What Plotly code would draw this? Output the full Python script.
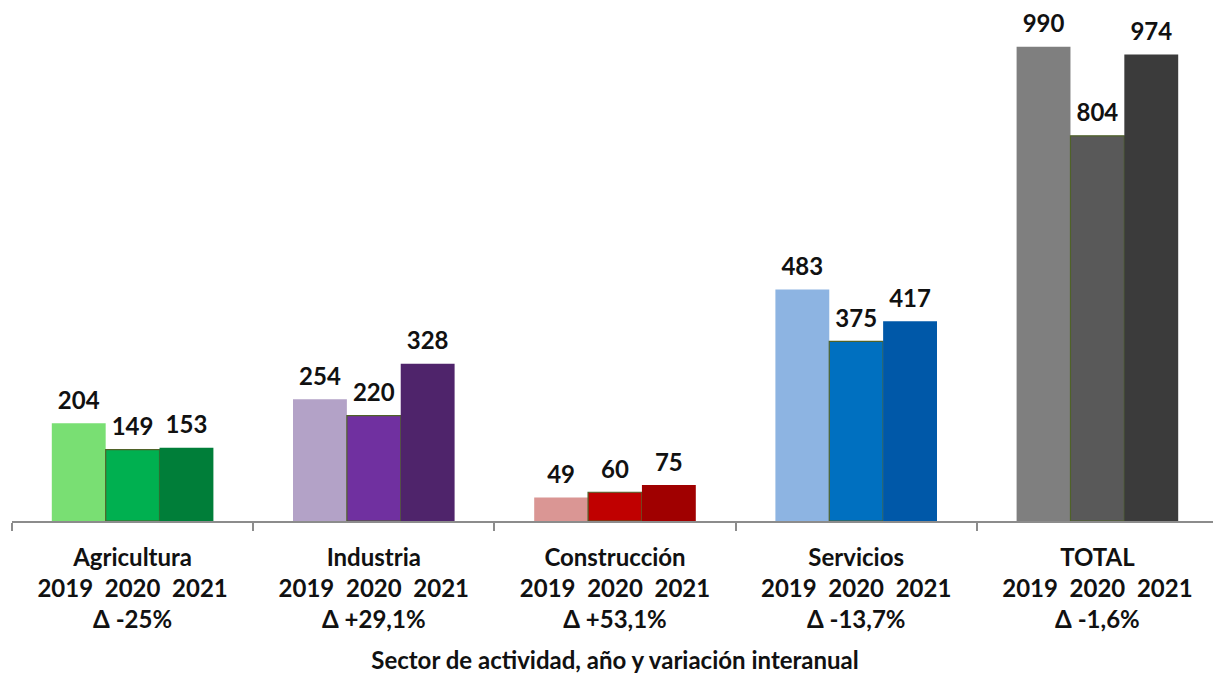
import plotly.graph_objects as go

sectors = ["Agricultura", "Industria", "Construcción", "Servicios", "TOTAL"]
variations = ["Δ -25%", "Δ +29,1%", "Δ +53,1%", "Δ -13,7%", "Δ -1,6%"]
years = ["2019", "2020", "2021"]
values_2019 = [204, 254, 49, 483, 990]
values_2020 = [149, 220, 60, 375, 804]
values_2021 = [153, 328, 75, 417, 974]

colors_2019 = ["#79DF73", "#B3A2C7", "#DA9694", "#8DB4E2", "#7F7F7F"]
colors_2020 = ["#00B050", "#7030A0", "#C00000", "#0070C0", "#595959"]
colors_2021 = ["#007E39", "#4F246B", "#A00000", "#0058A8", "#3B3B3B"]

tick_labels = [f"<b>{s}</b><br><b>{'  '.join(years)}</b><br><b>{v}</b>" for s, v in zip(sectors, variations)]

FONT = "Lato"
series = [
    ("2019", values_2019, colors_2019, 0),
    ("2020", values_2020, colors_2020, 1.2),
    ("2021", values_2021, colors_2021, 0),
]

fig = go.Figure()
for name, vals, cols, lw in series:
    fig.add_trace(go.Bar(
        x=sectors, y=vals, name=name, offsetgroup=name,
        marker=dict(color=cols, line=dict(color="#4F6228", width=lw)),
        hoverinfo="x+y",
    ))
for name, vals, cols, lw in series:
    fig.add_trace(go.Scatter(
        x=sectors, y=vals, name=name + " etiqueta", offsetgroup=name,
        mode="markers+text", text=[str(v) for v in vals],
        textposition="top center",
        marker=dict(size=12, opacity=0),
        textfont=dict(family=FONT, size=24, color="#111111", weight="bold"),
        showlegend=False, hoverinfo="skip", cliponaxis=False,
    ))

fig.update_layout(
    width=1221, height=674,
    barmode="group", scattermode="group", bargap=0.33, bargroupgap=0,
    plot_bgcolor="white", paper_bgcolor="white",
    margin=dict(l=4, r=11, t=10, b=161, autoexpand=False),
    showlegend=False,
    font=dict(family=FONT, color="#111111"),
)
fig.update_xaxes(
    tickmode="array", tickvals=sectors, ticktext=tick_labels,
    tickfont=dict(family=FONT, size=24, color="#111111"),
    showline=True, linecolor="#8C8C8C", linewidth=2,
    ticks="outside", tickson="boundaries", ticklen=8, tickcolor="#8C8C8C", tickwidth=2,
    ticklabelstandoff=14,
    showgrid=False, automargin=False,
    title=dict(text="<b>Sector de actividad, año y variación interanual</b>",
               font=dict(family=FONT, size=24, color="#111111"), standoff=20),
)
fig.update_yaxes(range=[0, 1050], visible=False, showgrid=False, automargin=False)

fig.write_html("out.html")
